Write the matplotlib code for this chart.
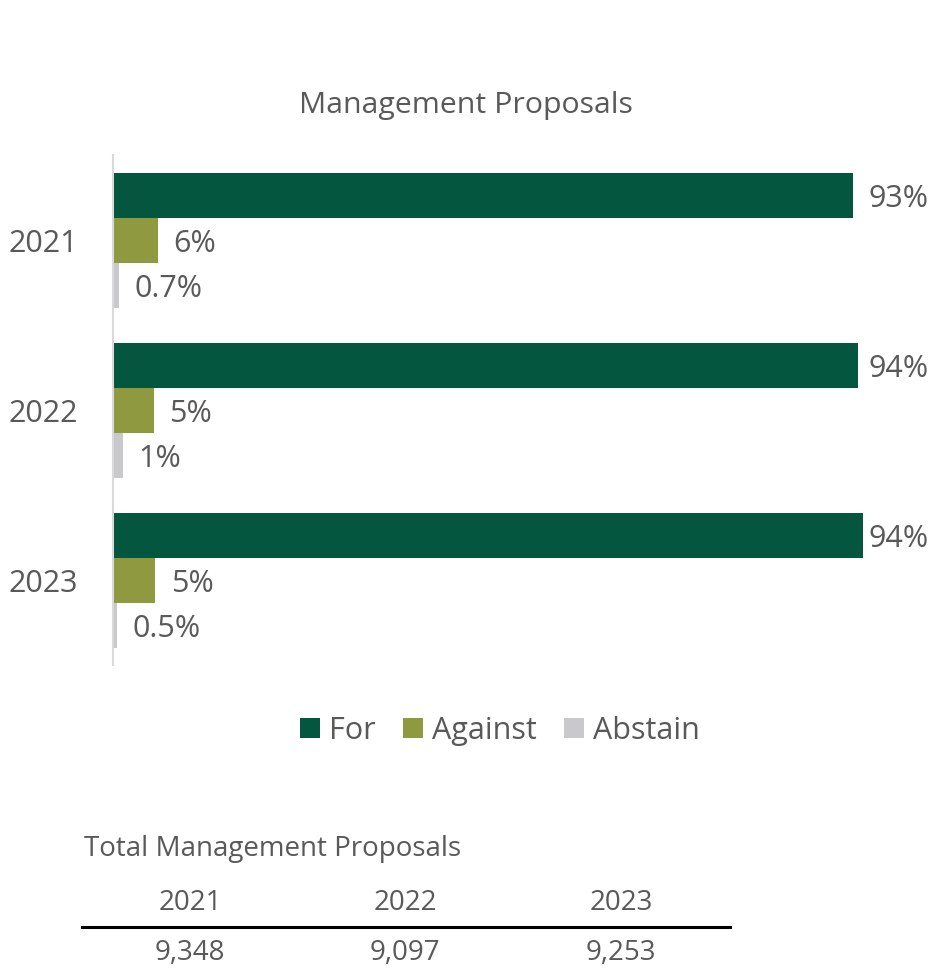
import matplotlib
matplotlib.use("Agg")
import matplotlib.pyplot as plt
import numpy as np
from matplotlib.patches import Patch
from matplotlib.lines import Line2D
from matplotlib.transforms import blended_transform_factory, IdentityTransform

plt.rcParams['font.family'] = ['Open Sans', 'DejaVu Sans']

years = ["2021", "2022", "2023"]
series_names = ["For", "Against", "Abstain"]
for_vals = [93.1, 93.7, 94.3]
against_vals = [5.6, 5.1, 5.3]
abstain_vals = [0.7, 1.2, 0.5]
for_labels = ["93%", "94%", "94%"]
against_labels = ["6%", "5%", "5%"]
abstain_labels = ["0.7%", "1%", "0.5%"]
totals = ["9,348", "9,097", "9,253"]

colors = ["#04563F", "#8F9A40", "#C9C9CB"]
txt = "#595959"

W, H = 934, 969
fig = plt.figure(figsize=(W/100, H/100), dpi=100)
ax = fig.add_axes([113/W, 1-665/H, 795/W, 510/H])

y = np.arange(len(years))
h = 45/170
series = [(for_vals, for_labels), (against_vals, against_labels), (abstain_vals, abstain_labels)]
offsets = [-h, 0, h]
ax.set_xlim(0, 100)
ax.set_ylim(2.5, -0.5)
fig.canvas.draw()
max_label_px = 869  # labels that would run off the figure are pulled inside
for (vals, labs), off, c in zip(series, offsets, colors):
    bars = ax.barh(y + off, vals, height=h, color=c, edgecolor='none')
    for b, lab in zip(bars, labs):
        xd, yd = ax.transData.transform((b.get_width(), b.get_y() + b.get_height()/2))
        xl = min(xd + 16, max_label_px)
        fig.text(xl / W, (yd - 4) / H, lab, va='center', ha='left',
                 fontsize=22, color=txt)

ax.set_yticks(y)
ax.set_yticklabels(years, fontsize=22, color=txt)
ax.tick_params(axis='y', length=0, pad=25)
ax.set_xticks([])
for s in ['top', 'right', 'bottom']:
    ax.spines[s].set_visible(False)
ax.spines['left'].set_color('#D9D9D9')
ax.spines['left'].set_linewidth(1.5)

fig.text(466/W, 1-106/H, "Management Proposals", ha='center', va='center',
         fontsize=21.8, color=txt)

handles = [Patch(facecolor=c, edgecolor='none') for c in colors]
fig.legend(handles, series_names, loc='center', bbox_to_anchor=(500/W, 1-731/H),
           ncol=3, frameon=False, fontsize=22, labelcolor=txt,
           handlelength=0.65, handleheight=0.65, handletextpad=0.3, columnspacing=0.9)

# table
fig.text(84/W, 1-849/H, "Total Management Proposals", ha='left', va='center',
         fontsize=20, color=txt)
xs = [190, 405, 621]
for xx, yr, tot in zip(xs, years, totals):
    fig.text(xx/W, 1-903/H, yr, ha='center', va='center', fontsize=20, color=txt)
    fig.text(xx/W, 1-953/H, tot, ha='center', va='center', fontsize=20, color=txt)
fig.add_artist(Line2D([82/W, 730/W], [1-927/H, 1-927/H], color='black', lw=2.2))

fig.savefig("out.png", dpi=100, facecolor='white')
